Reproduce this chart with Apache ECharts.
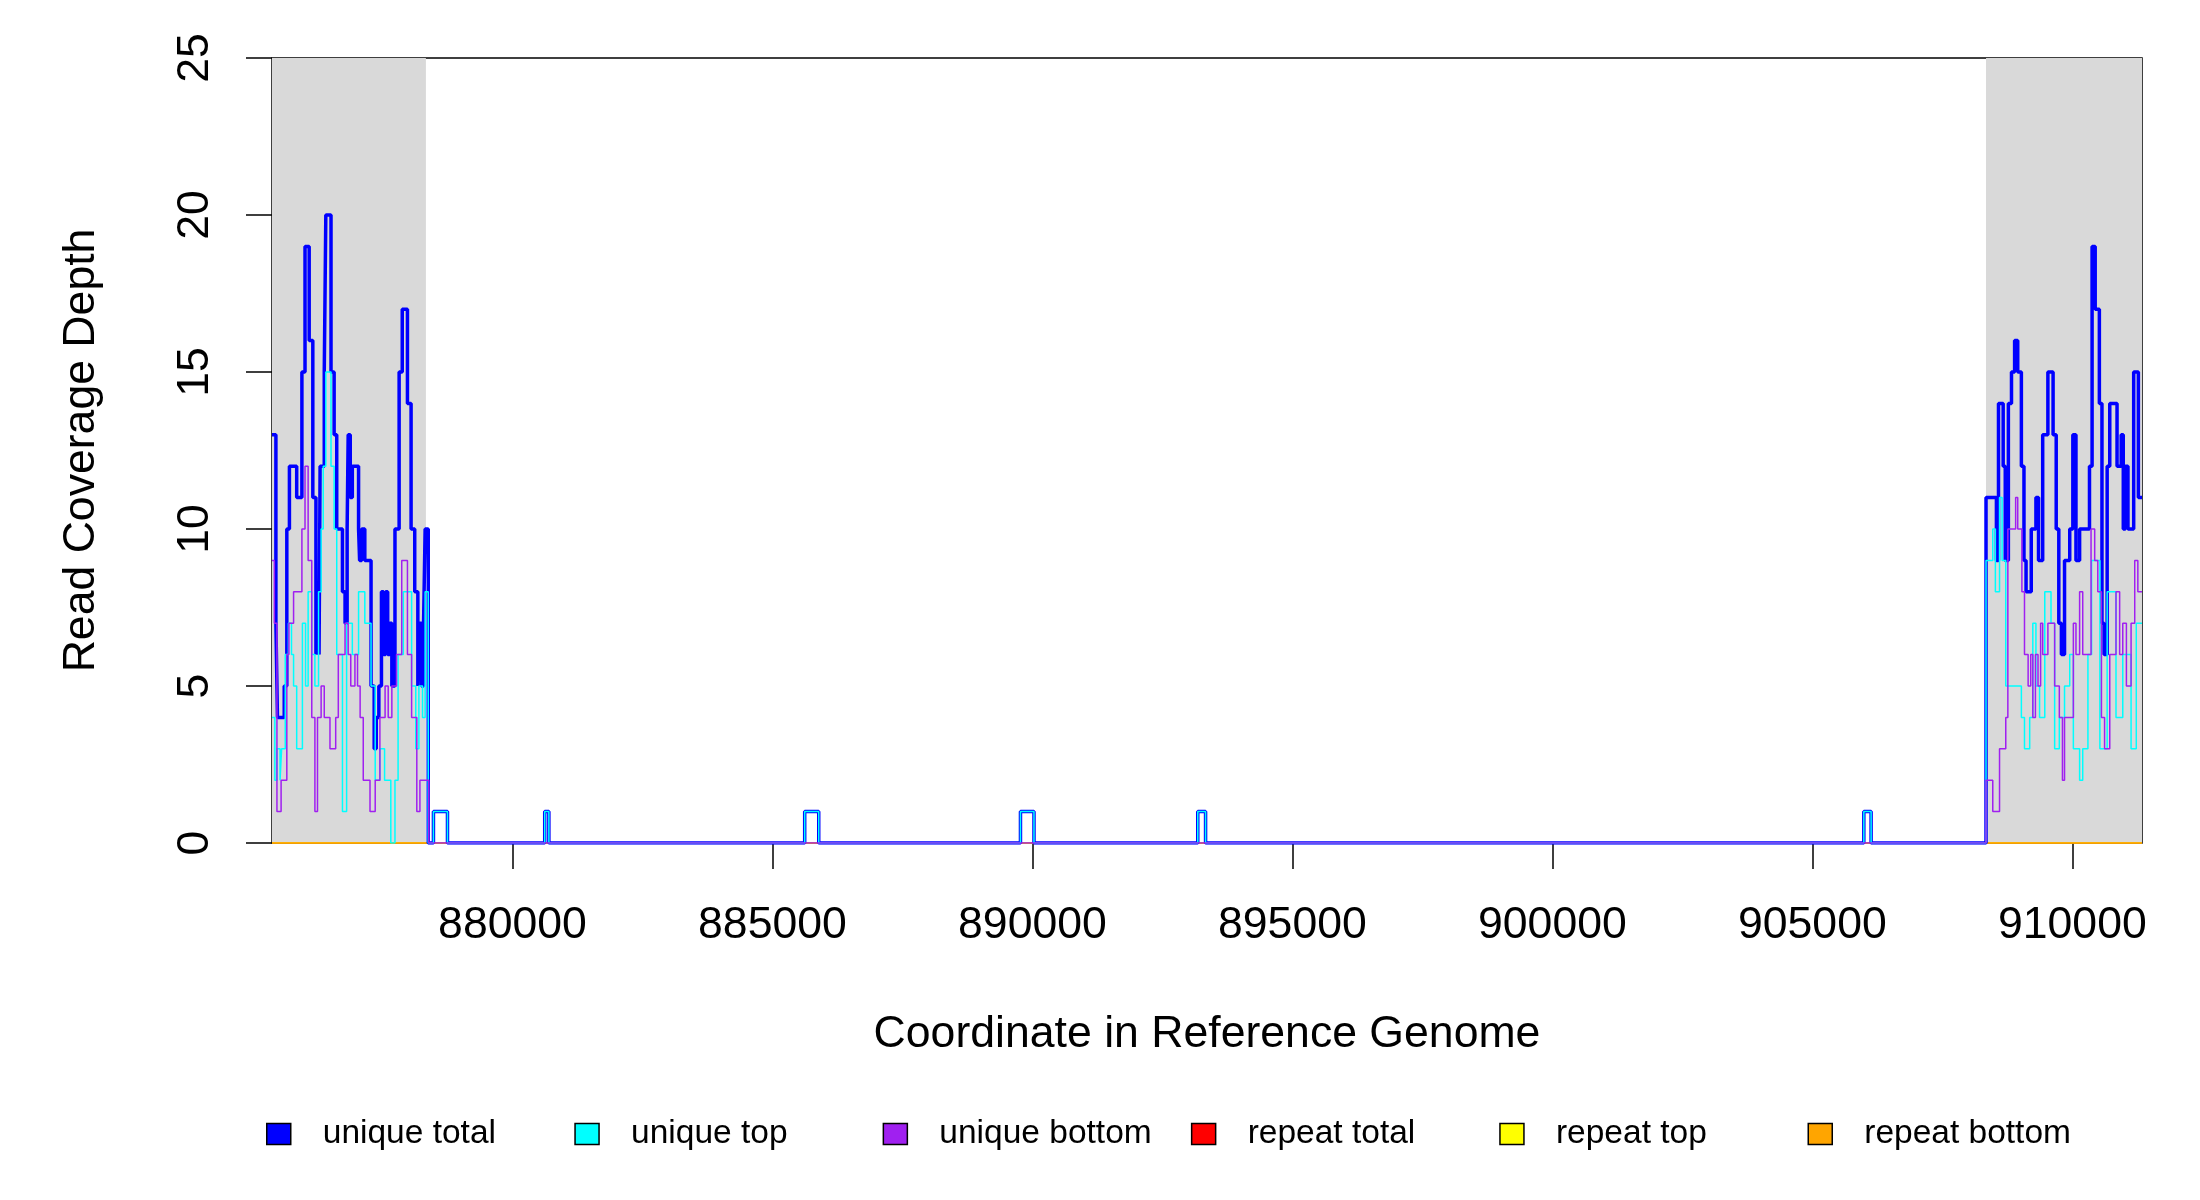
<!DOCTYPE html>
<html>
<head>
<meta charset="utf-8">
<title>Read Coverage Depth</title>
<script src="https://cdn.jsdelivr.net/npm/echarts/dist/echarts.min.js"></script>
<style>
  html, body { margin: 0; padding: 0; background: #fff; }
  #chart { width: 2200px; height: 1200px; }
</style>
</head>
<body>
<div id="chart"></div>
<script>
// genome window and flanking (shaded) regions
const xMin = 875375, xMax = 911340;
const xTicks = [880000, 885000, 890000, 895000, 900000, 905000, 910000];
const flankLeft = [875375, 878335];
const flankRight = [908340, 911340];

// unique total (change points: position, depth)
const totalLeftPos = [875375, 875450, 875480, 875610, 875660, 875710, 875850, 875950, 876010, 876090,
  876160, 876220, 876250, 876280, 876300, 876380, 876410, 876510, 876570, 876620,
  876730, 876780, 876820, 876840, 876880, 876920, 877040, 877060, 877100, 877160,
  877280, 877340, 877380, 877430, 877480, 877520, 877560, 877600, 877640, 877680,
  877740, 877820, 877880, 877980, 878050, 878120, 878180, 878210, 878250, 878290,
  878320, 878380];
const totalLeftVal = [13, 7, 4, 5, 10, 12, 11, 15, 19, 16,
  11, 6, 8, 6, 12, 15, 20, 15, 13, 10,
  8, 7, 10, 13, 11, 12, 10, 9, 10, 9,
  5, 3, 4, 5, 8, 6, 8, 6, 7, 5,
  10, 15, 17, 14, 10, 8, 5, 7, 5, 7,
  10, 0];
const totalRightPos = [908340, 908540, 908580, 908670, 908710, 908770, 908830, 908890, 908950, 909020,
  909070, 909110, 909210, 909300, 909350, 909430, 909530, 909630, 909690, 909740,
  909790, 909850, 909950, 910010, 910070, 910140, 910330, 910380, 910440, 910520,
  910570, 910610, 910670, 910720, 910860, 910940, 910980, 911020, 911070, 911180,
  911270];
const totalRightVal = [11, 9, 14, 12, 9, 14, 15, 16, 15, 12,
  9, 8, 10, 11, 9, 13, 15, 13, 10, 7,
  6, 9, 10, 13, 9, 10, 12, 19, 17, 14,
  7, 6, 12, 14, 12, 13, 10, 12, 10, 15,
  11];

// unique top
const topLeftPos = [875375, 875430, 875470, 875530, 875560, 875630, 875690, 875750, 875790, 875850,
  875960, 876020, 876070, 876140, 876200, 876270, 876320, 876360, 876410, 876510,
  876570, 876620, 876730, 876810, 876920, 877040, 877160, 877280, 877360, 877450,
  877540, 877660, 877740, 877800, 877900, 878060, 878140, 878200, 878270, 878320,
  878380];
const topLeftVal = [4, 2, 3, 2, 3, 6, 7, 6, 5, 3,
  7, 5, 8, 6, 5, 8, 10, 12, 15, 12,
  10, 6, 1, 7, 6, 8, 7, 5, 2, 3,
  2, 0, 2, 6, 8, 5, 3, 5, 4, 8,
  0];
const topRightPos = [908340, 908470, 908520, 908600, 908650, 908720, 909020, 909080, 909180, 909240,
  909300, 909370, 909470, 909590, 909660, 909750, 909850, 909950, 910020, 910140,
  910200, 910300, 910370, 910530, 910670, 910840, 910970, 911130, 911230];
const topRightVal = [9, 10, 8, 11, 9, 5, 4, 3, 4, 7,
  5, 4, 8, 7, 3, 4, 5, 6, 3, 2,
  3, 6, 9, 3, 8, 4, 6, 3, 7];

// unique bottom
const bottomLeftPos = [875375, 875420, 875470, 875550, 875660, 875700, 875790, 875950, 876010, 876070,
  876140, 876200, 876250, 876320, 876380, 876490, 876600, 876650, 876780, 876840,
  876890, 876970, 877020, 877070, 877130, 877260, 877360, 877450, 877550, 877610,
  877680, 877770, 877870, 877980, 878060, 878160, 878220, 878390];
const bottomLeftVal = [9, 7, 1, 2, 6, 7, 8, 10, 12, 9,
  4, 1, 4, 5, 4, 3, 4, 6, 7, 6,
  5, 6, 5, 4, 2, 1, 2, 4, 5, 4,
  5, 6, 9, 6, 4, 1, 2, 0];
const bottomRightPos = [908340, 908470, 908600, 908720, 908760, 908910, 908950, 909030, 909080, 909150,
  909200, 909240, 909290, 909340, 909390, 909430, 909530, 909660, 909750, 909810,
  909850, 910020, 910070, 910140, 910200, 910360, 910430, 910490, 910560, 910620,
  910720, 910840, 910910, 910970, 911040, 911130, 911200, 911260];
const bottomRightVal = [2, 1, 3, 4, 10, 11, 10, 8, 6, 5,
  6, 4, 6, 5, 7, 6, 7, 5, 4, 2,
  4, 7, 6, 8, 6, 10, 9, 8, 4, 3,
  6, 8, 6, 7, 5, 7, 9, 8];

// isolated reads inside the gene body
const pulseStart = [878480, 880620, 885620, 889770, 893180, 905990];
const pulseEnd = [878750, 880700, 885890, 890030, 893330, 906130];
const pulseTotal = [1, 1, 1, 1, 1, 1];
const pulseTop = [1, 1, 1, 1, 1, 1];
const pulseBottom = [0, 0, 0, 0, 0, 0];

// repeat reads: none
const repeatPos = [xMin, xMax];
const repeatTotal = [0, 0];
const repeatTop = [0, 0];
const repeatBottom = [0, 0];

const legendNames = ['unique total', 'unique top', 'unique bottom', 'repeat total', 'repeat top', 'repeat bottom'];

function pairs(pos, val) {
  return pos.map((p, i) => [p, val[i]]);
}

function buildSteps(leftPos, leftVal, pulseDepth, rightPos, rightVal) {
  let pts = pairs(leftPos, leftVal);
  pulseStart.forEach((s, i) => {
    if (pulseDepth[i] > 0) {
      pts.push([s, pulseDepth[i]], [pulseEnd[i], 0]);
    }
  });
  pts = pts.concat(pairs(rightPos, rightVal));
  pts.push([xMax, rightVal[rightVal.length - 1]]);
  return pts;
}

function lineSeries(name, color, width, data) {
  return {
    name: name,
    type: 'line',
    step: 'end',
    data: data,
    showSymbol: false,
    symbol: 'none',
    color: color,
    lineStyle: { color: color, width: width },
    animation: false,
    silent: true
  };
}

const font = 'Liberation Sans';
const chart = echarts.init(document.getElementById('chart'));

const repeatTotalSeries = lineSeries('repeat total', '#FF0000', 1.5, pairs(repeatPos, repeatTotal));
repeatTotalSeries.markArea = {
  silent: true,
  itemStyle: { color: '#D9D9D9' },
  data: [
    [{ xAxis: flankLeft[0] }, { xAxis: flankLeft[1] }],
    [{ xAxis: flankRight[0] }, { xAxis: flankRight[1] }]
  ]
};

// one legend box per entry so the columns are evenly spaced like R's legend
const legends = legendNames.map((name, i) => ({
  left: 266 + i * 308.3, top: 1117,
  padding: 0,
  icon: 'rect',
  itemWidth: 24, itemHeight: 21,
  selectedMode: false,
  itemStyle: { borderColor: '#000', borderWidth: 1.5 },
  formatter: n => '{t|' + n + '}',
  textStyle: {
    fontFamily: font, fontSize: 33.5, color: '#000',
    rich: { t: { fontFamily: font, fontSize: 33.5, color: '#000', padding: [0, 0, 0, 27] } }
  },
  data: [name]
}));

const option = {
  animation: false,
  backgroundColor: '#ffffff',
  grid: {
    left: 272, right: 58, top: 58, bottom: 357,
    show: true, borderColor: '#000', borderWidth: 1.5, backgroundColor: 'transparent'
  },
  xAxis: {
    type: 'value',
    min: xMin, max: xMax,
    name: 'Coordinate in Reference Genome',
    nameLocation: 'middle',
    nameGap: 169,
    nameTextStyle: { fontFamily: font, fontSize: 44.6, color: '#000' },
    axisLine: { show: false },
    axisTick: { show: true, inside: false, length: 26, customValues: xTicks, lineStyle: { color: '#000', width: 1.5 } },
    axisLabel: {
      customValues: xTicks, margin: 60, fontFamily: font, fontSize: 44.6, color: '#000',
      formatter: v => String(v)
    },
    splitLine: { show: false }
  },
  yAxis: {
    type: 'value',
    min: 0, max: 25, interval: 5,
    name: 'Read Coverage Depth',
    nameLocation: 'middle',
    nameGap: 168,
    nameTextStyle: { fontFamily: font, fontSize: 44.6, color: '#000' },
    axisLine: { show: false },
    axisTick: { show: true, inside: false, length: 26, lineStyle: { color: '#000', width: 1.5 } },
    axisLabel: { rotate: 90, margin: 54, fontFamily: font, fontSize: 44.6, color: '#000' },
    splitLine: { show: false }
  },
  legend: legends,
  series: [
    repeatTotalSeries,
    lineSeries('repeat top', '#FFFF00', 1.5, pairs(repeatPos, repeatTop)),
    lineSeries('repeat bottom', '#FFA500', 1.5, pairs(repeatPos, repeatBottom)),
    lineSeries('unique total', '#0000FF', 3.5, buildSteps(totalLeftPos, totalLeftVal, pulseTotal, totalRightPos, totalRightVal)),
    lineSeries('unique top', '#00FFFF', 1.5, buildSteps(topLeftPos, topLeftVal, pulseTop, topRightPos, topRightVal)),
    lineSeries('unique bottom', '#A020F0', 1.5, buildSteps(bottomLeftPos, bottomLeftVal, pulseBottom, bottomRightPos, bottomRightVal))
  ]
};

chart.setOption(option);
</script>
</body>
</html>
